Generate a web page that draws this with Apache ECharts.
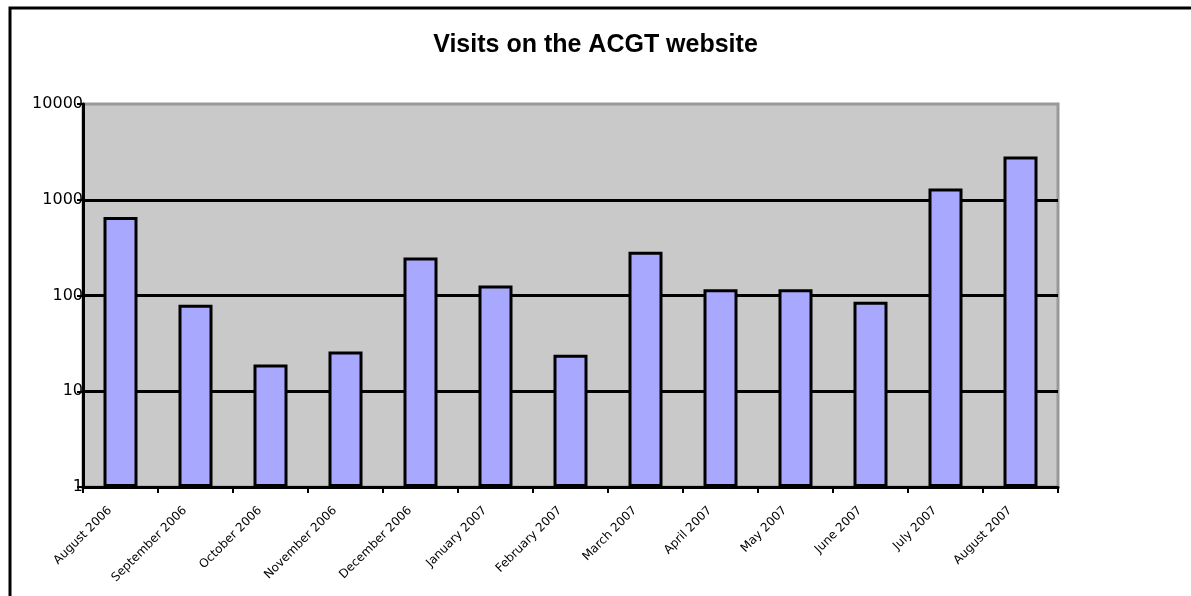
<!DOCTYPE html>
<html>
<head>
<meta charset="utf-8">
<script src="https://cdn.jsdelivr.net/npm/echarts@6/dist/echarts.min.js"></script>
<style>
html,body{margin:0;padding:0;background:#fff;}
#chart{width:1191px;height:596px;}
</style>
</head>
<body>
<div id="chart"></div>
<script>
const titleText = 'Visits on the ACGT website';
const categories = ['August 2006','September 2006','October 2006','November 2006','December 2006','January 2007','February 2007','March 2007','April 2007','May 2007','June 2007','July 2007','August 2007'];
const visits = [660, 80, 19, 26, 250, 127, 24, 287, 116, 116, 86, 1310, 2830];
const yMin = 1;
const yMax = 10000;

const chart = echarts.init(document.getElementById('chart'));
chart.setOption({
  animation: false,
  backgroundColor: '#ffffff',
  title: {
    text: titleText,
    left: 'center',
    top: 28,
    textStyle: {fontFamily: 'Liberation Sans', fontWeight: 'bold', fontSize: 25, color: '#000'}
  },
  graphic: [{
    type: 'rect',
    shape: {x: 10, y: 8, width: 2000, height: 2000},
    style: {fill: 'none', stroke: '#000', lineWidth: 3},
    silent: true,
    z: 100
  }],
  grid: {
    left: 83, top: 104, width: 975, height: 383,
    show: true, backgroundColor: '#c9c9c9', borderColor: '#999999', borderWidth: 3
  },
  xAxis: {
    type: 'category',
    data: categories,
    boundaryGap: true,
    axisLine: {lineStyle: {color: '#000', width: 3}},
    axisTick: {show: true, length: 6, lineStyle: {color: '#000', width: 2}},
    axisLabel: {rotate: 45, margin: 11, padding: [0, 15, 0, 0], interval: 0, fontFamily: 'DejaVu Sans', fontSize: 12, color: '#000'},
    splitLine: {show: false}
  },
  yAxis: {
    type: 'log',
    logBase: 10,
    min: yMin,
    max: yMax,
    axisLine: {show: true, lineStyle: {color: '#000', width: 3}},
    axisTick: {show: true, length: 6, lineStyle: {color: '#000', width: 2}},
    axisLabel: {margin: 0, padding: [5, 0, 0, 0], fontFamily: 'DejaVu Sans', fontSize: 16, color: '#000', formatter: function (v) { return String(Math.round(v)); }},
    splitLine: {show: true, lineStyle: {color: ['transparent','#000','#000','#000','transparent'], width: 3}},
    minorTick: {show: false},
    minorSplitLine: {show: false}
  },
  series: [{
    type: 'bar',
    data: visits,
    barWidth: 34,
    itemStyle: {color: '#a8a8ff', borderColor: '#000', borderWidth: 3}
  }]
});
</script>
</body>
</html>
